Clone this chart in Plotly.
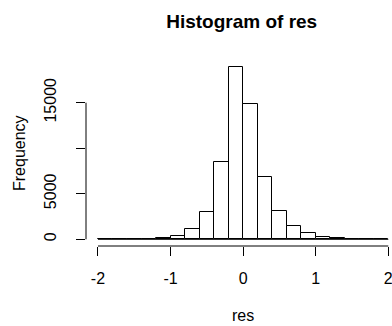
import plotly.graph_objects as go

# Histogram of res (R base style), bins of width 0.2 from -2 to 2
bin_edges = [-2.0, -1.8, -1.6, -1.4, -1.2, -1.0, -0.8, -0.6, -0.4, -0.2, 0.0,
             0.2, 0.4, 0.6, 0.8, 1.0, 1.2, 1.4, 1.6, 1.8, 2.0]
counts = [0, 0, 0, 0, 100, 330, 1130, 3040, 8460, 18890, 14830,
          6880, 3150, 1450, 650, 300, 110, 0, 0, 0]
x_ticks = [-2, -1, 0, 1, 2]
y_ticks = [0, 5000, 10000, 15000]
y_ticklabels = ["0", "5000", "", "15000"]

centers = [(a + b) / 2 for a, b in zip(bin_edges[:-1], bin_edges[1:])]
widths = [b - a for a, b in zip(bin_edges[:-1], bin_edges[1:])]

FONT = "Liberation Sans, Arial, sans-serif"

fig = go.Figure()
fig.add_trace(go.Bar(
    x=centers, y=counts, width=widths,
    marker=dict(color="white", line=dict(color="black", width=1)),
    hoverinfo="x+y", showlegend=False,
))

shapes = [
    # zero-height bins baseline
    dict(type="line", xref="x", yref="y", x0=bin_edges[0], x1=bin_edges[-1],
         y0=0, y1=0, line=dict(color="black", width=1), layer="below"),
    # x axis line (R style: from first to last tick)
    dict(type="line", xref="x", yref="paper", x0=x_ticks[0], x1=x_ticks[-1],
         y0=0, y1=0, line=dict(color="black", width=1)),
    # y axis line
    dict(type="line", xref="paper", yref="y", x0=0, x1=0,
         y0=y_ticks[0], y1=y_ticks[-1], line=dict(color="black", width=1)),
]

fig.update_layout(
    width=392, height=326,
    margin=dict(l=86, r=0, t=60, b=80),
    paper_bgcolor="white", plot_bgcolor="white",
    font=dict(family=FONT, size=16, color="black"),
    bargap=0,
    title=dict(text="<b>Histogram of res</b>", x=241.7 / 392, xref="container",
               xanchor="center", y=1 - 21 / 326, yref="container", yanchor="middle",
               font=dict(family=FONT, size=19, color="black")),
    xaxis=dict(range=[-2.165, 2.051], tickvals=x_ticks, ticktext=[str(v) for v in x_ticks],
               ticks="outside", ticklen=9, tickwidth=1, tickcolor="black",
               showgrid=False, zeroline=False, showline=False,
               ticklabeloverflow="allow",
               ticklabelstandoff=9, tickfont=dict(size=16)),
    yaxis=dict(range=[-736, 19687], tickvals=y_ticks, ticktext=y_ticklabels,
               ticks="outside", ticklen=9, tickwidth=1, tickcolor="black",
               showgrid=False, zeroline=False, showline=False, tickangle=-90,
               ticklabeloverflow="allow",
               ticklabelstandoff=14, tickfont=dict(size=16)),
    shapes=shapes,
    annotations=[
        dict(text="res", xref="x", x=0, yref="paper", y=(246 - 315) / 186,
             xanchor="center", yanchor="middle", showarrow=False,
             font=dict(family=FONT, size=16, color="black")),
        dict(text="Frequency", xref="paper", x=(19 - 86) / 306, yref="paper", y=0.5,
             xanchor="center", yanchor="middle", textangle=-90, showarrow=False,
             font=dict(family=FONT, size=16, color="black")),
    ],
)

fig.write_html("out.html")
